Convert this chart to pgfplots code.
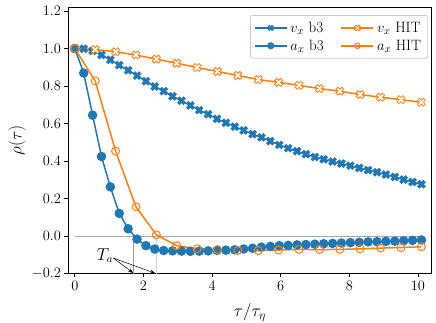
\documentclass[border=0pt]{standalone}
\usepackage{pgfplots}
\usepackage{pgfplotstable}
\pgfplotsset{compat=1.18}
\usetikzlibrary{arrows.meta}

\definecolor{tabblue}{HTML}{1F77B4}
\definecolor{taborange}{HTML}{FF7F0E}

% thick "X" marker (matplotlib style)
\pgfdeclareplotmark{Xthick}{%
  \pgfpathmoveto{\pgfqpoint{-0.5\pgfplotmarksize}{-1\pgfplotmarksize}}%
  \pgfpathlineto{\pgfqpoint{0pt}{-0.5\pgfplotmarksize}}%
  \pgfpathlineto{\pgfqpoint{0.5\pgfplotmarksize}{-1\pgfplotmarksize}}%
  \pgfpathlineto{\pgfqpoint{1\pgfplotmarksize}{-0.5\pgfplotmarksize}}%
  \pgfpathlineto{\pgfqpoint{0.5\pgfplotmarksize}{0pt}}%
  \pgfpathlineto{\pgfqpoint{1\pgfplotmarksize}{0.5\pgfplotmarksize}}%
  \pgfpathlineto{\pgfqpoint{0.5\pgfplotmarksize}{1\pgfplotmarksize}}%
  \pgfpathlineto{\pgfqpoint{0pt}{0.5\pgfplotmarksize}}%
  \pgfpathlineto{\pgfqpoint{-0.5\pgfplotmarksize}{1\pgfplotmarksize}}%
  \pgfpathlineto{\pgfqpoint{-1\pgfplotmarksize}{0.5\pgfplotmarksize}}%
  \pgfpathlineto{\pgfqpoint{-0.5\pgfplotmarksize}{0pt}}%
  \pgfpathlineto{\pgfqpoint{-1\pgfplotmarksize}{-0.5\pgfplotmarksize}}%
  \pgfpathclose
  \pgfusepathqfillstroke}

% b3 run
\pgfplotstableread{
t      vx     ax
0.000  1.000  1.000
0.259  0.999  0.870
0.518  0.988  0.645
0.777  0.966  0.425
1.036  0.940  0.263
1.295  0.912  0.122
1.554  0.884  0.040
1.813  0.856  -0.015
2.072  0.826  -0.050
2.331  0.798  -0.068
2.590  0.773  -0.076
2.849  0.746  -0.078
3.108  0.722  -0.079
3.367  0.697  -0.080
3.626  0.672  -0.079
3.885  0.650  -0.078
4.144  0.626  -0.075
4.403  0.605  -0.074
4.662  0.584  -0.072
4.921  0.564  -0.068
5.180  0.544  -0.064
5.439  0.527  -0.058
5.698  0.507  -0.054
5.957  0.487  -0.050
6.216  0.469  -0.049
6.475  0.453  -0.046
6.734  0.437  -0.044
6.993  0.422  -0.042
7.252  0.410  -0.040
7.511  0.398  -0.038
7.770  0.387  -0.036
8.029  0.376  -0.034
8.288  0.364  -0.032
8.547  0.352  -0.030
8.806  0.341  -0.029
9.065  0.329  -0.027
9.324  0.316  -0.026
9.583  0.302  -0.024
9.842  0.289  -0.022
10.101 0.277  -0.020
}\bthree

% HIT run
\pgfplotstableread{
t      vx     ax
0.000  1.000  1.000
0.594  0.995  0.828
1.188  0.983  0.454
1.782  0.966  0.157
2.376  0.944  0.008
2.970  0.922  -0.050
3.564  0.899  -0.066
4.158  0.878  -0.071
4.752  0.857  -0.075
5.346  0.835  -0.076
5.940  0.820  -0.073
6.534  0.804  -0.070
7.128  0.787  -0.071
7.722  0.773  -0.070
8.316  0.755  -0.067
8.910  0.741  -0.063
9.504  0.728  -0.060
10.098 0.714  -0.056
}\hit

\begin{document}
\begin{tikzpicture}
\path[use as bounding box] (-68pt,-49pt) rectangle (368.3pt,274pt);
\begin{axis}[
    at={(0,0)}, anchor=south west,
    scale only axis,
    width=364pt, height=266.7pt,
    xmin=-0.2, xmax=10.4,
    ymin=-0.2, ymax=1.22,
    xtick={0,2,...,10},
    ytick={-0.2,0,0.2,0.4,0.6,0.8,1.0,1.2},
    yticklabel style={/pgf/number format/.cd, fixed, fixed zerofill, precision=1},
    tick label style={font=\fontsize{15}{15}\selectfont},
    tick align=outside,
    major tick length=3.5pt,
    xtick pos=bottom, ytick pos=left,
    axis line style={line width=0.8pt},
    every tick/.style={black, line width=0.8pt},
    xlabel={$\tau/\tau_\eta$},
    ylabel={$\rho(\tau)$},
    label style={font=\fontsize{17}{17}\selectfont},
    xlabel style={at={(axis description cs:0.5,-0.145)}, anchor=center},
    ylabel style={at={(axis description cs:-0.14,0.5)}, anchor=center},
    legend columns=2,
    legend cell align=left,
    legend style={at={(0.99,0.971)}, anchor=north east,
        draw=black!20, rounded corners=2pt, line width=0.8pt,
        fill=white, fill opacity=0.8, text opacity=1,
        font=\fontsize{15}{15}\selectfont,
        inner sep=3.5pt,
        /tikz/every even column/.append style={column sep=14pt},
        nodes={inner sep=3pt}},
    legend image code/.code={%
        \draw[mark repeat=2, mark phase=2, mark size=2.8pt]
        plot coordinates {(0pt,0pt) (16pt,0pt) (32pt,0pt)};},
]
% guide lines
\addplot[forget plot, color=black!35, line width=0.9pt] coordinates {(0,0) (10.1,0)};
\addplot[forget plot, color=black!40, line width=0.9pt] coordinates {(1.72,0) (1.72,-0.2)};
\addplot[forget plot, color=black!18, line width=0.9pt] coordinates {(2.38,0) (2.38,-0.2)};

\addplot[tabblue, line width=1.5pt, mark=Xthick, mark size=4pt,
    mark options={fill=tabblue, draw=tabblue, line width=0.5pt}]
    table[x=t, y=vx] {\bthree};
\addlegendentry{$v_x$ b3}
\addplot[taborange, line width=1.5pt, mark=Xthick, mark size=4pt,
    mark options={fill=white, draw=taborange, line width=0.8pt}]
    table[x=t, y=vx] {\hit};
\addlegendentry{$v_x$ HIT}
\addplot[tabblue, line width=1.5pt, mark=*, mark size=4pt,
    mark options={fill=tabblue, draw=tabblue}]
    table[x=t, y=ax] {\bthree};
\addlegendentry{$a_x$ b3}
\addplot[taborange, line width=1.5pt, mark=o, mark size=4pt,
    mark options={fill=white, draw=taborange, line width=1pt}]
    table[x=t, y=ax] {\hit};
\addlegendentry{$a_x$ HIT}

\node[font=\fontsize{16}{16}\selectfont] at (axis cs:0.88,-0.102) {$T_a$};
\draw[-{Stealth[length=5pt]}, line width=0.5pt] (axis cs:1.12,-0.116) -- (axis cs:1.70,-0.195);
\draw[-{Stealth[length=5pt]}, line width=0.5pt] (axis cs:1.12,-0.116) -- (axis cs:2.34,-0.197);
\end{axis}
\end{tikzpicture}
\end{document}
